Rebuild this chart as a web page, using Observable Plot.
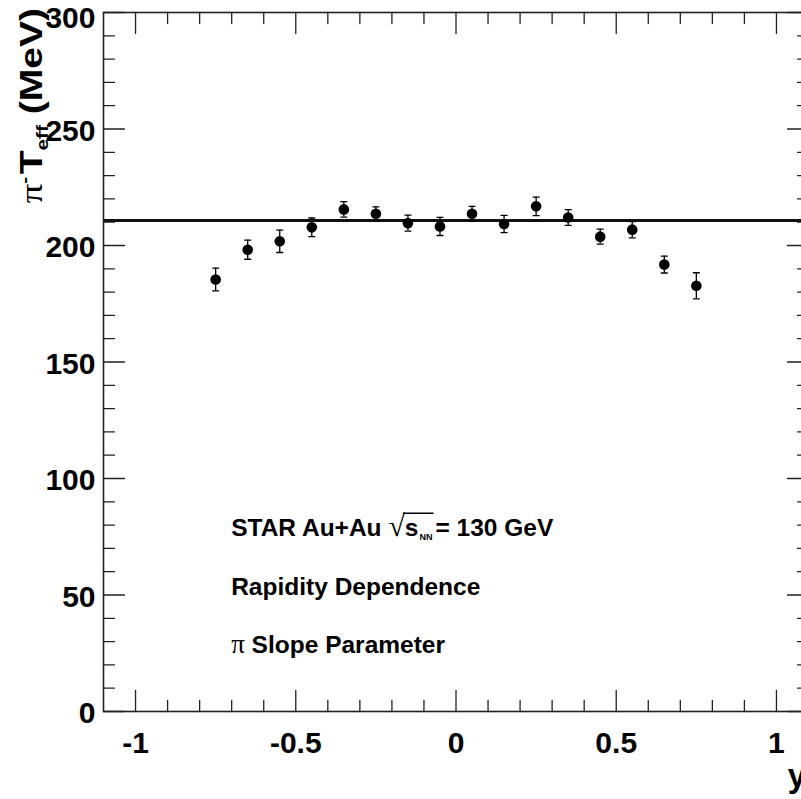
<!DOCTYPE html>
<html><head><meta charset="utf-8">
<script src="https://cdn.jsdelivr.net/npm/d3@7"></script>
<script src="https://cdn.jsdelivr.net/npm/@observablehq/plot@0.6"></script>
<style>
html,body{margin:0;padding:0;background:#fff;overflow:hidden;width:801px;height:799px;}
#chart{position:relative;width:820px;height:799px;}
</style></head><body><div id="chart"></div>
<script>
// ---- data ----
const rapidity = [-0.75,-0.65,-0.55,-0.45,-0.35,-0.25,-0.15,-0.05,0.05,0.15,0.25,0.35,0.45,0.55,0.65,0.75];
const tEff     = [185.4,198.2,201.8,207.8,215.5,213.6,209.6,208.2,213.6,209.2,216.8,212.0,203.8,206.8,191.8,182.7];
const tErr     = [4.9,4.1,4.8,4.0,3.3,3.0,3.4,3.9,3.2,3.7,4.0,3.4,3.2,3.5,3.6,5.6];
const fitValue = [210.7];
const xMajorTicks = [-1,-0.5,0,0.5,1];
const xMinorTicks = [-0.9,-0.8,-0.7,-0.6,-0.4,-0.3,-0.2,-0.1,0.1,0.2,0.3,0.4,0.6,0.7,0.8,0.9];
const yMajorTicks = [0,50,100,150,200,250];
const yTopTick = [300];
const yMinorTicks = [10,20,30,40,60,70,80,90,110,120,130,140,160,170,180,190,210,220,230,240,260,270,280,290];
const yAllMajor = [0,50,100,150,200,250,300];
const annotationLines = ["STAR Au+Au ", "Rapidity Dependence", "Slope Parameter"];

const rows = rapidity.map((x, i) => ({x, t: tEff[i], e: tErr[i]}));

const FONT = "'Liberation Sans', Arial, Helvetica, sans-serif";
const SERIF = "'Liberation Serif', 'DejaVu Serif', serif";
const tickShape = {draw(ctx, l) { ctx.moveTo(0, 0); ctx.lineTo(0, -l); }};
const tickStyle = {shape: tickShape, anchor: "start", stroke: "#222", strokeWidth: 1.3};

const plot = Plot.plot({
  width: 820, height: 799,
  marginLeft: 103, marginRight: 12, marginTop: 12, marginBottom: 88,
  style: {fontFamily: FONT, background: "white", color: "#000"},
  x: {domain: [-1.1, 1.1], label: null},
  y: {domain: [0, 300], label: null},
  marks: [
    Plot.ruleY(fitValue, {y: d => d, stroke: "#111", strokeWidth: 3}),
    Plot.ruleX(rows, {x: "x", y1: d => d.t - d.e, y2: d => d.t + d.e, stroke: "#000", strokeWidth: 1.3}),
    Plot.vector(rows, {x: "x", y: d => d.t + d.e, rotate: 90, length: 6, anchor: "middle", shape: tickShape, stroke: "#000", strokeWidth: 1.3}),
    Plot.vector(rows, {x: "x", y: d => d.t - d.e, rotate: 90, length: 6, anchor: "middle", shape: tickShape, stroke: "#000", strokeWidth: 1.3}),
    Plot.dot(rows, {x: "x", y: "t", r: 5.3, fill: "#000"}),
    // ticks (inward, ROOT style)
    Plot.vector(xMajorTicks, {x: d => d, frameAnchor: "bottom", rotate: 0, length: 21, ...tickStyle}),
    Plot.vector(xMinorTicks, {x: d => d, frameAnchor: "bottom", rotate: 0, length: 11, ...tickStyle}),
    Plot.vector(xMajorTicks, {x: d => d, frameAnchor: "top", rotate: 180, length: 21, ...tickStyle}),
    Plot.vector(xMinorTicks, {x: d => d, frameAnchor: "top", rotate: 180, length: 11, ...tickStyle}),
    Plot.vector(yAllMajor, {y: d => d, frameAnchor: "left", rotate: 90, length: 21, ...tickStyle}),
    Plot.vector(yMinorTicks, {y: d => d, frameAnchor: "left", rotate: 90, length: 11, ...tickStyle}),
    Plot.vector(yAllMajor, {y: d => d, frameAnchor: "right", rotate: -90, length: 21, ...tickStyle}),
    Plot.vector(yMinorTicks, {y: d => d, frameAnchor: "right", rotate: -90, length: 11, ...tickStyle}),
    Plot.frame({stroke: "#222", strokeWidth: 1.6}),
    Plot.axisX({ticks: xMajorTicks, tickSize: 0, tickPadding: 20, fontSize: 30, fontWeight: "bold", tickFormat: d => String(d), label: null}),
    Plot.axisY({ticks: yMajorTicks, tickSize: 0, tickPadding: 8, fontSize: 30, fontWeight: "bold", tickFormat: d => String(d), label: null, dy: 2}),
    Plot.axisY({ticks: yTopTick, tickSize: 0, tickPadding: 8, fontSize: 30, fontWeight: "bold", tickFormat: d => String(d), label: null, dy: 6})
  ]
});
document.getElementById("chart").appendChild(plot);

// ---- titles and annotations ----
const svg = d3.select(plot);
const sx = plot.scale("x"), sy = plot.scale("y");

const ann = svg.append("g").attr("font-family", FONT).attr("font-weight", "bold").attr("font-size", 24.5)
  .attr("fill", "#000").attr("text-anchor", "start");
const x0 = sx.apply(-0.7);
const t1 = ann.append("text").attr("x", x0).attr("y", sy.apply(75));
t1.append("tspan").text(annotationLines[0]);
t1.append("tspan").attr("font-family", SERIF).attr("font-weight", "normal").attr("font-size", 30).text("√");
t1.append("tspan").text("s");
t1.append("tspan").attr("font-size", 9).attr("dy", 4).attr("dx", 1).text("NN");
t1.append("tspan").attr("dy", -4).attr("dx", 3).text("= 130 GeV");
{
  const node = t1.node();
  const a = node.getStartPositionOfChar(12).x - 2;
  const b = node.getEndPositionOfChar(14).x + 1;
  const base = sy.apply(75);
  ann.append("line").attr("x1", a).attr("x2", b).attr("y1", base - 23).attr("y2", base - 23)
    .attr("stroke", "#000").attr("stroke-width", 1.5);
}
ann.append("text").attr("x", x0).attr("y", sy.apply(50)).text(annotationLines[1]);
const t3 = ann.append("text").attr("x", x0).attr("y", sy.apply(25));
t3.append("tspan").attr("font-family", SERIF).attr("font-weight", "normal").attr("font-size", 27).text("π");
t3.append("tspan").text(" " + annotationLines[2]);

// y-axis title
const yt = svg.append("text")
  .attr("transform", "translate(42,8) rotate(-90) scale(1.22,1)")
  .attr("text-anchor", "end").attr("font-family", FONT).attr("font-weight", "bold")
  .attr("font-size", 32).attr("fill", "#000");
yt.append("tspan").attr("font-family", SERIF).attr("font-weight", "normal").text("π");
yt.append("tspan").attr("font-size", 17).attr("dy", -12).text("-");
yt.append("tspan").attr("dy", 12).attr("dx", 2).text("T");
yt.append("tspan").attr("font-size", 17).attr("dy", 6).text("eff");
yt.append("tspan").attr("dy", -6).text(" (MeV)");

// x-axis title
svg.append("text").attr("x", sx.apply(1.1) - 2).attr("y", 787).attr("text-anchor", "end")
  .attr("font-family", FONT).attr("font-weight", "bold").attr("font-size", 33).attr("fill", "#000").text("y");
</script></body></html>
